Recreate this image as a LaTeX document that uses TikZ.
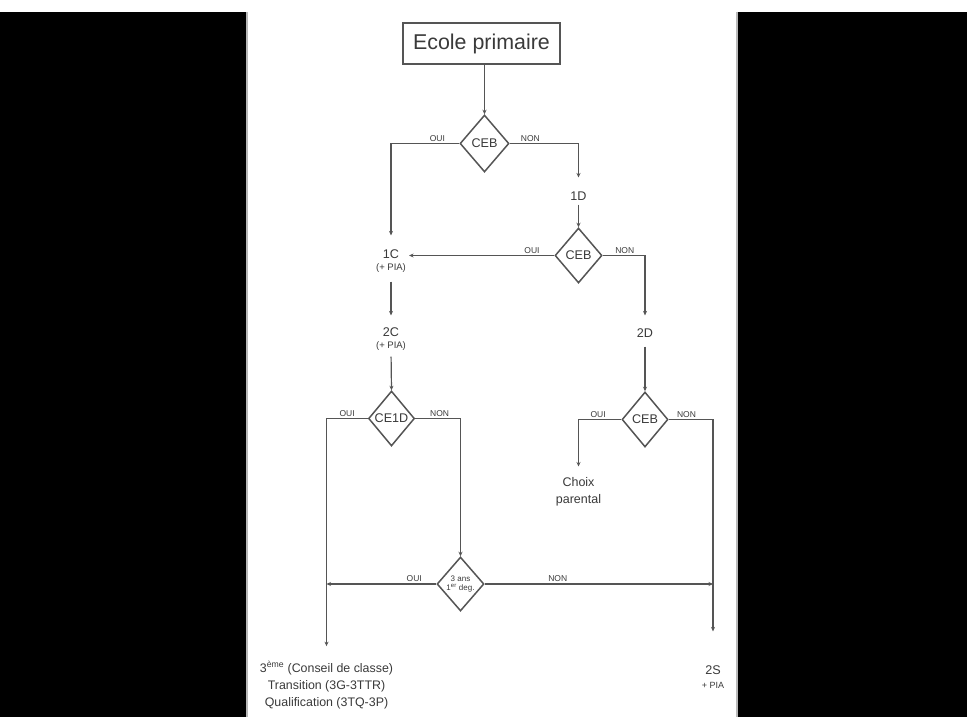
\documentclass[tikz,border=0pt]{standalone}
\usepackage{fontspec}
\setmainfont{Liberation Sans}
\usetikzlibrary{shapes.geometric,arrows.meta}
\definecolor{trait}{HTML}{555555}
\definecolor{encre}{HTML}{3A3A3A}
\tikzset{
  ligne/.style={draw=trait, line width=1.2pt},
  fleche/.style={ligne, -{Stealth[length=4.5pt,width=4pt]}},
  decision/.style={diamond, draw=trait, line width=1.5pt, inner sep=0pt, text=encre, align=center,
    font=\fontsize{12.6}{14}\selectfont},
  etape/.style={text=encre, align=center, inner sep=0pt, font=\fontsize{12.6}{15}\selectfont},
  lbl/.style={text=encre, font=\fontsize{8.5}{10}\selectfont, above=1.5pt, inner sep=0pt},
}
\begin{document}
\begin{tikzpicture}[x=1pt, y=-1pt]
  % Fond et bandes noires
  \useasboundingbox (0,0) rectangle (967,717);
  \fill[white] (0,0) rectangle (967,717);
  \fill[black] (0,12) rectangle (246,717);
  \fill[black] (738,12) rectangle (967,717);
  \draw[gray!55, line width=2pt] (247,12) -- (247,717);
  \draw[gray!55, line width=2pt] (737,12) -- (737,717);

  % Noeuds
  \node[draw=trait, line width=2pt, minimum width=157pt, minimum height=41pt, inner sep=0pt,
    text=encre, font=\fontsize{21.4}{24}\selectfont] (ecole) at (481.5,43.5) {Ecole primaire};
  \node[decision, minimum width=49pt, minimum height=57pt] (ceb1) at (484.5,143.5) {CEB};
  \node[etape] (d1) at (578.5,196) {1D};
  \node[decision, minimum width=47pt, minimum height=55pt] (ceb2) at (578.5,255.5) {CEB};
  \node[etape] (c1) at (391,261) {1C\\[-3pt]{\fontsize{9.5}{11}\selectfont (+ PIA)}};
  \node[etape] (c2) at (391,339) {2C\\[-3pt]{\fontsize{9.5}{11}\selectfont (+ PIA)}};
  \node[etape] (d2) at (645,333) {2D};
  \node[decision, minimum width=46pt, minimum height=55pt] (ce1d) at (391.5,418.5) {CE1D};
  \node[decision, minimum width=46pt, minimum height=55pt] (ceb3) at (645,419.5) {CEB};
  \node[etape, font=\fontsize{12.5}{17}\selectfont] (choix) at (578.5,492) {Choix\\parental};
  \node[decision, minimum width=47pt, minimum height=54pt, inner sep=-2pt,
    font=\fontsize{8}{9}\selectfont] (ans3) at (460.5,584) {3 ans\\1\textsuperscript{er} deg.};
  \node[etape, font=\fontsize{12.4}{17}\selectfont] (trois) at (326.5,685)
    {3\textsuperscript{ème} (Conseil de classe)\\Transition (3G-3TTR)\\Qualification (3TQ-3P)};
  \node[etape] (s2) at (713,677) {2S\\[-1pt]{\fontsize{9}{10}\selectfont + PIA}};

  % Liaisons
  \draw[fleche] (ceb1.north |- ecole.south) -- (ceb1.north);
  \draw[fleche, shorten >=14pt] (ceb1.west) -| node[lbl, pos=0.16] {OUI} (c1.north);
  \draw[fleche, shorten >=14pt] (ceb1.east) -| node[lbl, pos=0.15] {NON} (d1.north);
  \draw[fleche, shorten <=4pt] (d1.south) -- (ceb2.north);
  \draw[fleche, shorten >=3pt] (ceb2.west) -- node[lbl, pos=0.15] {OUI} (ceb2.west -| c1.east);
  \draw[fleche, shorten >=13pt] (ceb2.east) -| node[lbl, pos=0.26] {NON} (d2.north);
  \draw[fleche, shorten <=9pt, shorten >=12pt] (c1.south) -- (c2.north);
  \draw[fleche, shorten <=6pt] (c2.south) -- (ce1d.north);
  \draw[fleche, shorten <=9pt] (d2.south) -- (ceb3.north);
  \draw[fleche, shorten >=15pt] (ce1d.west) -| node[lbl, pos=0.25] {OUI} (trois.north);
  \draw[fleche] (ce1d.east) -| node[lbl, pos=0.27] {NON} (ans3.north);
  \draw[fleche, shorten >=11pt] (ceb3.west) -| node[lbl, pos=0.27] {OUI} (choix.north);
  \draw[fleche, shorten >=34pt] (ceb3.east) -| node[lbl, pos=0.2] {NON} (s2.north);
  \draw[fleche] (ans3.west) -- node[lbl, pos=0.2] {OUI} (ans3.west -| trois.north);
  \draw[fleche] (ans3.east) -- node[lbl, pos=0.32] {NON} (ans3.east -| s2.north);
\end{tikzpicture}
\end{document}
